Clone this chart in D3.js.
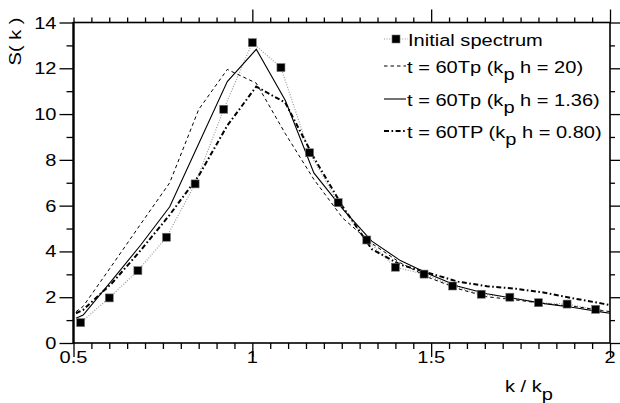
<!DOCTYPE html>
<html>
  <head>
    <meta charset="utf-8" />
    <title>spectrum</title>
    <style>
      body { margin: 0; background: #ffffff; }
      text { font-family: "Liberation Sans", Arial, sans-serif; fill: #000; }
    </style>
  </head>
  <body>
    <svg width="620" height="403" id="mainsvg"></svg>
    <script src="https://cdn.jsdelivr.net/npm/d3@7"></script>
    <script>
      // initial spectrum (squares)
      const kInit = [0.52, 0.60, 0.68, 0.76, 0.84, 0.92, 1.00, 1.08, 1.16, 1.24, 1.32, 1.40, 1.48, 1.56, 1.64, 1.72, 1.80, 1.88, 1.96];
      const sInit = [0.89, 1.97, 3.16, 4.62, 6.95, 10.21, 13.12, 12.03, 8.31, 6.13, 4.50, 3.31, 3.01, 2.49, 2.13, 2.00, 1.76, 1.70, 1.47];

      // spectra after 60 periods
      const kSim = [0.507, 0.527, 0.608, 0.688, 0.769, 0.850, 0.930, 1.011, 1.092, 1.172, 1.253, 1.334, 1.414, 1.495, 1.575, 1.656, 1.737, 1.817, 1.898, 1.979, 2.0];
      const sH20 = [1.37, 1.60, 3.40, 5.20, 7.00, 10.2, 11.95, 11.35, 9.15, 7.15, 5.45, 4.35, 3.50, 2.85, 2.37, 2.02, 1.88, 1.72, 1.60, 1.42, 1.37];
      const sH136 = [1.08, 1.22, 2.75, 4.28, 5.95, 8.70, 11.42, 12.83, 10.60, 7.43, 5.85, 4.45, 3.60, 3.00, 2.48, 2.15, 1.93, 1.72, 1.55, 1.35, 1.30];
      const sH080 = [1.30, 1.45, 2.62, 4.05, 5.60, 7.30, 9.50, 11.20, 10.50, 8.10, 5.95, 4.10, 3.42, 3.05, 2.68, 2.48, 2.37, 2.20, 1.95, 1.72, 1.66];

      const xMajor = [0.5, 1, 1.5, 2];
      const xMajorLabels = ["0.5", "1", "1.5", "2"];
      const xMinor = d3.range(0.55, 2.0, 0.05).filter((v) => Math.abs(v * 2 - Math.round(v * 2)) > 1e-6);
      const yMajor = [0, 2, 4, 6, 8, 10, 12, 14];
      const yMinor = [1, 3, 5, 7, 9, 11, 13];

      const legendMain = ["t = 60Tp (k", "t = 60Tp (k", "t = 60TP (k"];
      const legendTail = [" h = 20)", " h = 1.36)", " h = 0.80)"];

      const svg = d3.select("#mainsvg");
      const fontSize = 17;
      const stretch = 1.18; // the original glyphs are a little wider than Arial

      const x = d3.scaleLinear().domain([0.5, 2]).range([73.5, 610]);
      const y = d3.scaleLinear().domain([0, 14]).range([343, 22.5]);

      // ---- axes (ticks only, labels are drawn below) ----
      function tickAxis(axis, vals, size, transform) {
        svg.append("g")
          .attr("transform", transform)
          .call(axis.tickValues(vals).tickSize(size).tickFormat(""))
          .call((g) => g.select(".domain").remove())
          .selectAll("line").attr("stroke", "#000").attr("stroke-width", 1.3);
      }
      tickAxis(d3.axisLeft(y), yMajor, 14, "translate(73.5,0)");
      tickAxis(d3.axisLeft(y), yMinor, 7, "translate(73.5,0)");
      tickAxis(d3.axisRight(y), yMajor, 12, "translate(610,0)");
      tickAxis(d3.axisRight(y), yMinor, 5, "translate(610,0)");
      tickAxis(d3.axisBottom(x), xMajor, 14, "translate(0,343)");
      tickAxis(d3.axisBottom(x), xMinor, 6, "translate(0,343)");
      tickAxis(d3.axisTop(x), xMajor.slice(1), 13, "translate(0,22.5)");
      tickAxis(d3.axisTop(x), [0.5].concat(xMinor), 5, "translate(0,22.5)");

      // frame
      svg.append("rect")
        .attr("x", x(0.5)).attr("y", y(14))
        .attr("width", x(2) - x(0.5)).attr("height", y(0) - y(14))
        .attr("fill", "none").attr("stroke", "#000").attr("stroke-width", 1.6);
      svg.append("line")
        .attr("x1", x(0.5)).attr("x2", x(0.5)).attr("y1", y(14)).attr("y2", y(0))
        .attr("stroke", "#000").attr("stroke-width", 2.2);

      // tick labels
      svg.append("g").selectAll("text").data(yMajor).join("text")
        .attr("text-anchor", "end")
        .attr("font-size", fontSize)
        .attr("transform", (d) => `translate(56.5,${y(d) + 6}) scale(${stretch},1)`)
        .text((d) => d);
      svg.append("g").selectAll("text").data(xMajor).join("text")
        .attr("text-anchor", "middle")
        .attr("font-size", fontSize)
        .attr("transform", (d) => `translate(${x(d)},363) scale(${stretch},1)`)
        .text((d, i) => xMajorLabels[i]);

      // axis titles
      const xt = svg.append("text").attr("font-size", fontSize)
        .attr("transform", `translate(505,392) scale(${stretch},1)`);
      xt.append("tspan").text("k / k");
      xt.append("tspan").attr("dy", 8).text("p");
      svg.append("text").attr("font-size", fontSize).attr("text-anchor", "middle")
        .attr("transform", `translate(20.5,41.5) rotate(-90) scale(${stretch},1)`)
        .text("S( k )");

      // ---- lines ----
      const line = d3.line().x((d) => x(d[0])).y((d) => y(d[1]));
      const initPts = d3.zip(kInit, sInit);

      const styles = [
        { vals: sH20, width: 1, dash: "3.5,3" },
        { vals: sH136, width: 1.1, dash: null },
        { vals: sH080, width: 2, dash: "5,2.5,1.6,2.5" }
      ];

      svg.append("path").datum(initPts)
        .attr("d", line).attr("fill", "none")
        .attr("stroke", "#9a9a9a").attr("stroke-width", 1.2).attr("stroke-dasharray", "1,1.6");

      styles.forEach((s) => {
        svg.append("path").datum(d3.zip(kSim, s.vals))
          .attr("d", line).attr("fill", "none")
          .attr("stroke", "#000").attr("stroke-width", s.width)
          .attr("stroke-dasharray", s.dash);
      });

      svg.append("g").selectAll("rect").data(initPts).join("rect")
        .attr("x", (d) => x(d[0]) - 4).attr("y", (d) => y(d[1]) - 4)
        .attr("width", 8).attr("height", 8)
        .attr("fill", "#000").attr("stroke", "#777").attr("stroke-width", 0.6);

      // ---- legend ----
      const lg = svg.append("g");
      const rowBase = [46, 73, 106, 138];
      lg.append("line")
        .attr("x1", 384).attr("x2", 408).attr("y1", rowBase[0] - 7).attr("y2", rowBase[0] - 7)
        .attr("stroke", "#9a9a9a").attr("stroke-width", 1.2).attr("stroke-dasharray", "1,1.6");
      lg.append("rect").attr("x", 392).attr("y", rowBase[0] - 11).attr("width", 8).attr("height", 8)
        .attr("fill", "#000").attr("stroke", "#777").attr("stroke-width", 0.6);
      lg.append("text").attr("font-size", fontSize)
        .attr("transform", `translate(408,${rowBase[0]}) scale(${stretch},1)`)
        .text("Initial spectrum");

      styles.forEach((s, i) => {
        const b = rowBase[i + 1];
        lg.append("line")
          .attr("x1", 384).attr("x2", 406).attr("y1", b - 7).attr("y2", b - 7)
          .attr("stroke", "#000").attr("stroke-width", s.width)
          .attr("stroke-dasharray", s.dash);
        const t = lg.append("text").attr("font-size", fontSize)
          .attr("transform", `translate(407,${b}) scale(${stretch},1)`);
        t.append("tspan").text(legendMain[i]);
        t.append("tspan").attr("dy", 7).text("p");
        t.append("tspan").attr("dy", -7).text(legendTail[i]);
      });
    </script>
  </body>
</html>
